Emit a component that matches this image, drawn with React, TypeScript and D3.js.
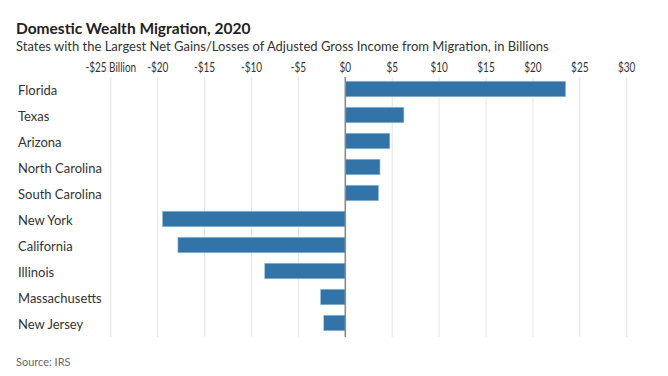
import React from "react";
import * as d3 from "d3";

const states = ["Florida","Texas","Arizona","North Carolina","South Carolina","New York","California","Illinois","Massachusetts","New Jersey"];
const values = [23.5, 6.25, 4.75, 3.7, 3.55, -19.5, -17.85, -8.6, -2.65, -2.3];
const tickValues = [-25,-20,-15,-10,-5,0,5,10,15,20,25,30];
const tickLabels = ["-$25 Billion","-$20","-$15","-$10","-$5","$0","$5","$10","$15","$20","$25","$30"];

const W = 668, H = 376;

export default function App() {
  const x = d3.scaleLinear().domain([-25, 30]).range([110.8, 626.7]);
  const y = d3.scaleBand<string>().domain(states).range([76, 336]).paddingInner(0.4).paddingOuter(0.2);
  const font = "Lato, 'Open Sans', sans-serif";
  return (
    <svg width={W} height={H} style={{ position: "absolute", left: 0, top: 0, background: "#fff" }}>
      <text x={16} y={34} fontFamily={font} fontWeight={700} fontSize={15.5} fill="#222">Domestic Wealth Migration, 2020</text>
      <text x={16} y={51} fontFamily={font} fontSize={13} fill="#333">States with the Largest Net Gains/Losses of Adjusted Gross Income from Migration, in Billions</text>
      {tickValues.map((t, i) => (
        <g key={t}>
          {t !== 0 && <line x1={x(t)} x2={x(t)} y1={77} y2={337} stroke="#e8e8e8" strokeWidth={1.2} />}
          <g transform={`translate(${x(t)},72) scale(0.8,1)`}>
            <text x={0} y={0} textAnchor="middle" fontFamily={font} fontSize={12.5} fill="#333">{tickLabels[i]}</text>
          </g>
        </g>
      ))}
      {states.map((s, i) => {
        const v = values[i];
        const x0 = x(Math.min(0, v));
        const x1 = x(Math.max(0, v));
        return (
          <g key={s}>
            <rect x={x0} y={y(s)!} width={x1 - x0} height={y.bandwidth()} fill="#3274a8" stroke="#a9c8e0" strokeWidth={0.6} />
            <text x={18} y={y(s)! + y.bandwidth() / 2 + 6.2} fontFamily={font} fontSize={13} fill="#333">{s}</text>
          </g>
        );
      })}
      <line x1={x(0)} x2={x(0)} y1={77} y2={337} stroke="#8a8a8a" strokeWidth={1.6} />
      <text x={16} y={366} fontFamily={font} fontSize={11} fill="#666">Source: IRS</text>
    </svg>
  );
}
